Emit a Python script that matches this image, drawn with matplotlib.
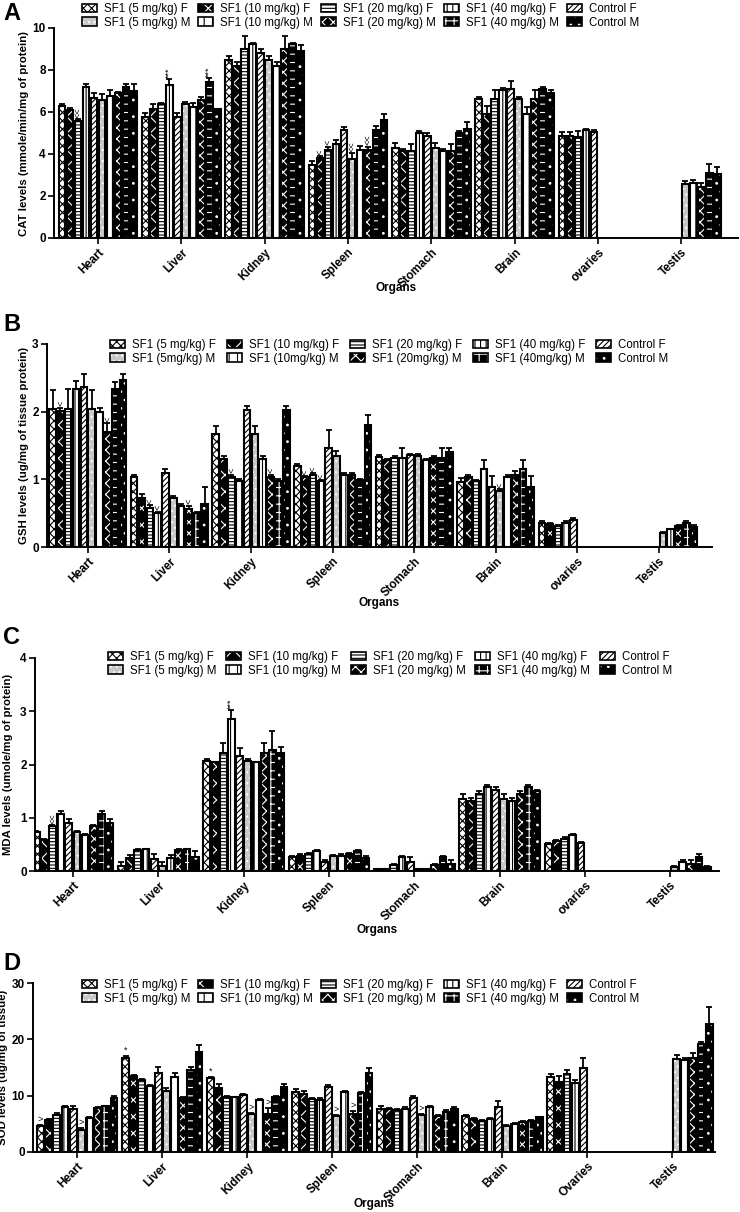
import numpy as np
import matplotlib
matplotlib.use("Agg")
import matplotlib.pyplot as plt
from matplotlib.patches import Patch

plt.rcParams['font.family'] = ['Liberation Sans', 'DejaVu Sans']
plt.rcParams['hatch.linewidth'] = 0.8

nan = np.nan

organs = ['Heart', 'Liver', 'Kidney', 'Spleen', 'Stomach', 'Brain', 'ovaries', 'Testis']
organs_d = ['Heart', 'Liver', 'Kidney', 'Spleen', 'Stomach', 'Brain', 'Ovaries', 'Testis']

# series order: F5, F10, F20, F40, Control F, M5, M10, M20, M40, Control M
labels_f = ['SF1 (5 mg/kg) F', 'SF1 (10 mg/kg) F', 'SF1 (20 mg/kg) F', 'SF1 (40 mg/kg) F', 'Control F']
labels_m = ['SF1 (5 mg/kg) M', 'SF1 (10 mg/kg) M', 'SF1 (20 mg/kg) M', 'SF1 (40 mg/kg) M', 'Control M']
labels_m_b = ['SF1 (5mg/kg) M', 'SF1 (10mg/kg) M', 'SF1 (20mg/kg) M', 'SF1 (40mg/kg) M', 'Control M']

# A: CAT
cat_mean = [
    [6.3, 6.1, 5.55, 7.2, 6.65, 6.55, 6.75, 6.9, 7.2, 7.0],
    [5.75, 6.15, 6.4, 7.3, 5.75, 6.4, 6.25, 6.55, 7.45, 6.12],
    [8.5, 8.2, 9.0, 9.25, 8.8, 8.5, 8.2, 9.0, 9.25, 8.9],
    [3.5, 3.8, 4.2, 4.5, 5.15, 3.75, 4.2, 4.2, 5.15, 5.6],
    [4.27, 4.16, 4.16, 4.98, 4.86, 4.27, 4.16, 4.16, 4.98, 5.17],
    [6.63, 5.89, 6.63, 7.05, 7.08, 6.63, 5.89, 6.63, 7.08, 6.89],
    [4.87, 4.87, 4.83, 5.14, 5.03, nan, nan, nan, nan, nan],
    [nan, nan, nan, nan, nan, 2.57, 2.63, 2.44, 3.08, 3.05],
]
cat_err = [
    [0.1, 0.1, 0.12, 0.15, 0.25, 0.3, 0.3, 0.05, 0.15, 0.35],
    [0.22, 0.25, 0.05, 0.25, 0.22, 0.08, 0.2, 0.15, 0.15, 0.03],
    [0.15, 0.2, 0.6, 0.05, 0.2, 0.15, 0.2, 0.6, 0.05, 0.3],
    [0.15, 0.1, 0.15, 0.15, 0.15, 0.3, 0.2, 0.15, 0.2, 0.3],
    [0.25, 0.1, 0.3, 0.1, 0.15, 0.27, 0.1, 0.3, 0.1, 0.35],
    [0.1, 0.4, 0.4, 0.1, 0.4, 0.1, 0.35, 0.4, 0.1, 0.15],
    [0.2, 0.2, 0.25, 0.05, 0.1, nan, nan, nan, nan, nan],
    [nan, nan, nan, nan, nan, 0.15, 0.12, 0.18, 0.45, 0.35],
]

# B: GSH
gsh_mean = [
    [2.04, 2.01, 2.04, 2.34, 2.37, 2.04, 2.0, 1.70, 2.34, 2.47],
    [1.03, 0.72, 0.57, 0.50, 1.10, 0.73, 0.60, 0.56, 0.50, 0.63],
    [1.67, 1.30, 1.04, 0.98, 2.02, 1.67, 1.30, 1.04, 0.98, 2.02],
    [1.20, 1.03, 1.07, 0.97, 1.47, 1.34, 1.07, 1.07, 0.99, 1.80],
    [1.33, 1.29, 1.32, 1.31, 1.36, 1.34, 1.29, 1.32, 1.31, 1.41],
    [0.96, 1.03, 0.97, 1.16, 0.89, 0.83, 1.03, 1.06, 1.16, 0.89],
    [0.36, 0.34, 0.31, 0.36, 0.40, nan, nan, nan, nan, nan],
    [nan, nan, nan, nan, nan, 0.21, 0.26, 0.31, 0.36, 0.29],
]
gsh_err = [
    [0.28, 0.05, 0.3, 0.11, 0.18, 0.28, 0.05, 0.13, 0.1, 0.08],
    [0.03, 0.06, 0.05, 0.02, 0.06, 0.03, 0.04, 0.05, 0.02, 0.26],
    [0.12, 0.05, 0.03, 0.03, 0.06, 0.12, 0.05, 0.03, 0.03, 0.06],
    [0.02, 0.02, 0.02, 0.02, 0.26, 0.08, 0.02, 0.02, 0.02, 0.15],
    [0.03, 0.01, 0.03, 0.15, 0.02, 0.03, 0.01, 0.03, 0.15, 0.05],
    [0.06, 0.03, 0.02, 0.13, 0.16, 0.02, 0.03, 0.06, 0.13, 0.16],
    [0.02, 0.02, 0.01, 0.02, 0.03, nan, nan, nan, nan, nan],
    [nan, nan, nan, nan, nan, 0.01, 0.01, 0.01, 0.02, 0.03],
]

# C: MDA
mda_mean = [
    [0.74, 0.59, 0.84, 1.07, 0.91, 0.74, 0.67, 0.84, 1.07, 0.91],
    [0.10, 0.24, 0.39, 0.41, 0.22, 0.10, 0.24, 0.39, 0.41, 0.27],
    [2.07, 2.04, 2.22, 2.86, 2.16, 2.07, 2.04, 2.22, 2.28, 2.21],
    [0.26, 0.29, 0.31, 0.38, 0.16, 0.28, 0.29, 0.31, 0.38, 0.25],
    [0.03, 0.03, 0.11, 0.26, 0.16, 0.03, 0.03, 0.12, 0.26, 0.14],
    [1.35, 1.32, 1.44, 1.58, 1.52, 1.35, 1.32, 1.44, 1.58, 1.50],
    [0.51, 0.57, 0.61, 0.68, 0.52, nan, nan, nan, nan, nan],
    [nan, nan, nan, nan, nan, 0.075, 0.16, 0.14, 0.27, 0.08],
]
mda_err = [
    [0.02, 0.02, 0.02, 0.06, 0.07, 0.02, 0.02, 0.02, 0.06, 0.07],
    [0.07, 0.06, 0.02, 0.01, 0.09, 0.07, 0.06, 0.02, 0.01, 0.1],
    [0.03, 0.01, 0.18, 0.16, 0.15, 0.03, 0.01, 0.18, 0.35, 0.12],
    [0.02, 0.02, 0.02, 0.02, 0.05, 0.02, 0.02, 0.02, 0.02, 0.03],
    [0.01, 0.01, 0.02, 0.02, 0.1, 0.01, 0.01, 0.02, 0.02, 0.06],
    [0.1, 0.06, 0.06, 0.03, 0.06, 0.1, 0.06, 0.06, 0.03, 0.03],
    [0.02, 0.02, 0.02, 0.02, 0.02, nan, nan, nan, nan, nan],
    [nan, nan, nan, nan, nan, 0.02, 0.05, 0.06, 0.04, 0.01],
]

# D: SOD
sod_mean = [
    [4.63, 5.64, 6.65, 7.9, 7.72, 3.98, 6.12, 7.84, 8.14, 9.62],
    [16.6, 13.5, 12.8, 11.7, 14.1, 10.8, 13.4, 9.5, 14.6, 17.8],
    [13.1, 11.3, 9.8, 9.7, 10.1, 6.8, 9.2, 6.7, 9.8, 11.5],
    [10.7, 10.3, 9.4, 9.2, 11.5, 6.4, 10.7, 6.8, 10.4, 14.1],
    [7.7, 7.55, 7.43, 7.7, 9.5, 6.5, 7.9, 6.4, 7.1, 7.6],
    [6.35, 5.8, 5.5, 5.8, 8.0, 4.6, 4.9, 5.3, 5.5, 6.2],
    [13.4, 12.5, 13.8, 12.3, 14.85, nan, nan, nan, nan, nan],
    [nan, nan, nan, nan, nan, 16.5, 16.3, 16.6, 19.1, 22.7],
]
sod_err = [
    [0.2, 0.15, 0.2, 0.2, 0.4, 0.2, 0.15, 0.15, 0.1, 0.4],
    [0.5, 0.2, 0.2, 0.2, 1.0, 0.6, 0.6, 0.2, 0.5, 1.2],
    [0.2, 0.7, 0.1, 0.1, 0.2, 0.1, 0.2, 1.1, 0.2, 0.5],
    [0.4, 0.5, 0.1, 0.3, 0.4, 0.2, 0.2, 0.5, 0.3, 0.8],
    [0.4, 0.2, 0.2, 0.2, 0.5, 0.2, 0.2, 0.2, 0.3, 0.4],
    [0.3, 0.2, 0.2, 0.2, 1.0, 0.2, 0.3, 0.2, 0.2, 0.1],
    [0.4, 1.0, 0.7, 0.5, 1.9, nan, nan, nan, nan, nan],
    [nan, nan, nan, nan, nan, 0.7, 0.3, 0.9, 0.5, 3.0],
]

# significance marks: (organ index, series index, text)
cat_marks = [(0, 2, '<<'), (1, 3, '***'), (1, 8, '***'), (3, 1, '<'), (3, 2, '<'), (3, 5, '<<'), (3, 7, '<<')]
gsh_marks = [(0, 1, '<'), (0, 7, '<'), (1, 2, '<'), (1, 3, '<'), (1, 7, '<'), (2, 2, '<'), (2, 7, '<'),
             (3, 1, '<'), (3, 2, '<'), (3, 3, '<'), (5, 5, '<')]
mda_marks = [(0, 2, '<<'), (2, 3, '***')]
sod_marks = [(0, 0, '>'), (0, 5, '>'), (1, 0, '*'), (2, 0, '*'), (2, 5, '>'), (2, 7, '>'),
             (3, 5, '>'), (3, 7, '>'), (4, 5, '>')]

# face colour, hatch colour, hatch
styles = [
    ('white', 'black', 'xxxx'),
    ('black', 'white', 'xx'),
    ('white', 'black', '-----'),
    ('white', 'black', '|||'),
    ('white', 'black', '//////'),
    ('#c8c8c8', 'white', '...'),
    ('white', 'black', '||'),
    ('black', 'white', 'xxx'),
    ('black', 'white', '++'),
    ('black', 'white', '..'),
]

W, H = 740, 1212
fig = plt.figure(figsize=(W / 100, H / 100), dpi=100)

slot = 0.096
bw = 0.08

panels = [
    dict(mean=cat_mean, err=cat_err, marks=cat_marks, names=organs, rect=(54, 28, 738, 238),
         xlim=(-0.53, 7.68), ylim=10, yt=[0, 2, 4, 6, 8, 10], ylab='CAT levels (mmole/min/mg of protein)',
         ylab_x=29, letter=('A', 14), organs_y=288, leg=(82, 3), lm=labels_m, cs=0.7),
    dict(mean=gsh_mean, err=gsh_err, marks=gsh_marks, names=organs, rect=(47, 344, 712, 547),
         xlim=(-0.5, 7.65), ylim=3, yt=[0, 1, 2, 3], ylab='GSH levels (ug/mg of tissue protein)',
         ylab_x=29, letter=('B', 325), organs_y=603, leg=(110, 339), lm=labels_m_b, cs=0.95),
    dict(mean=mda_mean, err=mda_err, marks=mda_marks, names=organs, rect=(35, 658, 719, 871),
         xlim=(-0.445, 7.57), ylim=4, yt=[0, 1, 2, 3, 4], ylab='MDA levels (umole/mg of protein)',
         ylab_x=13, letter=('C', 638), organs_y=930, leg=(108, 651), lm=labels_m, cs=0.85),
    dict(mean=sod_mean, err=sod_err, marks=sod_marks, names=organs_d, rect=(33, 983, 715, 1152),
         xlim=(-0.52, 7.5), ylim=30, yt=[0, 10, 20, 30], ylab='SOD levels (ug/mg of tissue)',
         ylab_x=8, letter=('D', 964), organs_y=1204, leg=(82, 979), lm=labels_m, cs=0.7),
]

for p in panels:
    l, t, r, b = p['rect']
    ax = fig.add_axes([l / W, 1 - b / H, (r - l) / W, (b - t) / H])
    mean = np.array(p['mean'], dtype=float)
    err = np.array(p['err'], dtype=float)
    xs = np.arange(len(p['names']))
    handles = []
    for j in range(10):
        fc, hc, hatch = styles[j]
        x = xs + (j - 4.5) * slot
        m = ~np.isnan(mean[:, j])
        ax.bar(x[m], mean[m, j], bw, color=fc, edgecolor=hc, hatch=hatch, linewidth=0, zorder=2)
        ax.bar(x[m], mean[m, j], bw, facecolor='none', edgecolor='black', linewidth=1.5, zorder=2.5)
        ax.errorbar(x[m], mean[m, j], yerr=[np.zeros(m.sum()), err[m, j]], fmt='none',
                    ecolor='black', elinewidth=1.3, capsize=2, capthick=1.3, zorder=3)
        handles.append((Patch(facecolor=fc, edgecolor=hc, hatch=hatch, linewidth=0),
                        Patch(facecolor='none', edgecolor='black', linewidth=1.2)))
    for oi, sj, txt in p['marks']:
        x = xs[oi] + (sj - 4.5) * slot
        top = mean[oi, sj] + err[oi, sj]
        rot = 90 if txt in ('<', '<<', '***') else 0
        ax.annotate(txt, xy=(x, top), xytext=(0, 1), textcoords='offset points',
                    ha='center', va='bottom', rotation=rot, fontsize=6.5)

    ax.set_xlim(*p['xlim'])
    ax.set_ylim(0, p['ylim'])
    ax.set_yticks(p['yt'])
    ax.set_xticks(xs)
    ax.set_xticklabels(p['names'], rotation=45, ha='right', rotation_mode='anchor',
                       fontweight='bold', fontsize=8.5)
    for lbl in ax.get_yticklabels():
        lbl.set_fontweight('bold')
        lbl.set_fontsize(8.5)
    ax.spines['top'].set_visible(False)
    ax.spines['right'].set_visible(False)
    ax.spines['left'].set_linewidth(1.4)
    ax.spines['bottom'].set_linewidth(1.4)
    ax.tick_params(direction='out', length=4, width=1.2, pad=2)
    ax.set_ylabel(p['ylab'], fontweight='bold', fontsize=8.2)
    ax.yaxis.set_label_coords((p['ylab_x'] - l) / (r - l), 0.5)

    order = []
    labs = []
    for k in range(5):
        order += [handles[k], handles[k + 5]]
        labs += [labels_f[k], p['lm'][k]]
    lx, ly = p['leg']
    ax.legend(order, labs, ncol=5, loc='upper left', bbox_to_anchor=(lx / W, 1 - ly / H),
              bbox_transform=fig.transFigure, frameon=False, fontsize=8.3, borderpad=0,
              borderaxespad=0, handlelength=1.3, handleheight=0.75, handletextpad=0.6,
              columnspacing=p['cs'], labelspacing=0.15)

    fig.text((l + r) / 2 / W, 1 - p['organs_y'] / H, 'Organs', ha='center', va='center',
             fontweight='bold', fontsize=8.5)
    letter, ly2 = p['letter']
    fig.text(3 / W, 1 - ly2 / H, letter, ha='left', va='center', fontweight='bold', fontsize=17)

fig.savefig('out.png', dpi=100)
